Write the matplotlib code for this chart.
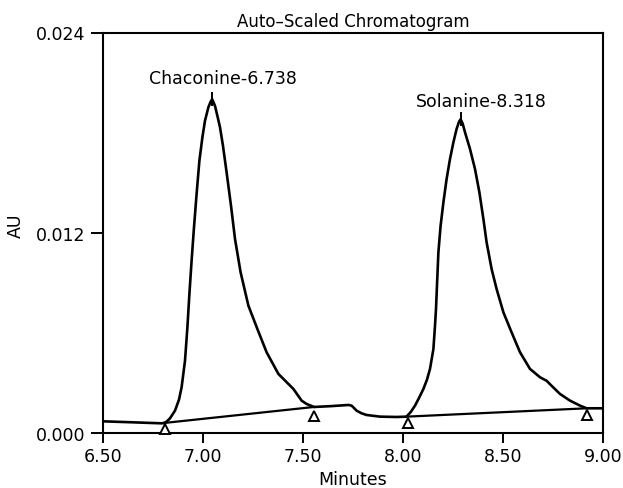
import matplotlib
matplotlib.use("Agg")
import matplotlib.pyplot as plt

plt.rcParams['font.family'] = ['DejaVu Sans']

# ---- data ----
time_min = [6.50, 6.65, 6.793, 6.805, 6.818, 6.835, 6.860, 6.880, 6.893, 6.910, 6.922,
            6.932, 6.943, 6.955, 6.968, 6.982, 6.997, 7.010, 7.027, 7.038, 7.046,
            7.060, 7.072, 7.085, 7.100, 7.118, 7.140, 7.160, 7.188, 7.227, 7.272,
            7.318, 7.377, 7.402, 7.452, 7.493, 7.518, 7.555, 7.640, 7.727, 7.743,
            7.768, 7.793, 7.818, 7.885, 7.968, 8.018, 8.040, 8.060, 8.080, 8.102,
            8.120, 8.135, 8.152, 8.160, 8.165, 8.172, 8.177, 8.188, 8.202, 8.218,
            8.235, 8.252, 8.268, 8.280, 8.288, 8.298, 8.310, 8.335, 8.360, 8.382,
            8.402, 8.418, 8.443, 8.468, 8.502, 8.543, 8.585, 8.635, 8.685, 8.718,
            8.743, 8.785, 8.835, 8.885, 8.918, 9.000]
absorbance = [0.00070, 0.00064, 0.00058, 0.00060, 0.00068, 0.00088, 0.00134, 0.00200,
              0.00274, 0.00433, 0.00633, 0.00833, 0.01033, 0.01233, 0.01432, 0.01632,
              0.01772, 0.01872, 0.01952, 0.01985, 0.02000, 0.01960, 0.01900, 0.01832,
              0.01720, 0.01562, 0.01362, 0.01163, 0.00963, 0.00763, 0.00623, 0.00484,
              0.00354, 0.00324, 0.00264, 0.00194, 0.00174, 0.00156, 0.00161, 0.00168,
              0.00164, 0.00134, 0.00118, 0.00108, 0.00098, 0.00096, 0.00098, 0.00128,
              0.00164, 0.00210, 0.00264, 0.00320, 0.00384, 0.00503, 0.00643, 0.00743,
              0.00943, 0.01083, 0.01242, 0.01382, 0.01522, 0.01642, 0.01742, 0.01822,
              0.01865, 0.01880, 0.01855, 0.01802, 0.01702, 0.01582, 0.01442, 0.01282,
              0.01143, 0.00983, 0.00863, 0.00723, 0.00603, 0.00484, 0.00384, 0.00334,
              0.00313, 0.00283, 0.00234, 0.00194, 0.00164, 0.00148, 0.00148]

# integration baselines (start, end) of each peak
baseline1_x = [6.805, 7.555]
baseline1_y = [0.00060, 0.00156]
baseline2_x = [8.018, 8.918]
baseline2_y = [0.00098, 0.00148]

# peak apex markers and labels
apex_x = [7.046, 8.288]
apex_y = [0.02000, 0.01880]
peak_labels = ["Chaconine-6.738", "Solanine-8.318"]
label_x = [7.10, 8.39]
label_y = [0.0213, 0.0199]

# baseline event triangles
event_x = [6.8075, 7.555, 8.0225, 8.9215]
event_y = [0.00024, 0.00104, 0.00060, 0.00108]

x_ticks = [6.50, 7.00, 7.50, 8.00, 8.50, 9.00]
x_ticklabels = ["6.50", "7.00", "7.50", "8.00", "8.50", "9.00"]
y_ticks = [0.000, 0.012, 0.024]
y_ticklabels = ["0.000", "0.012", "0.024"]

# ---- figure ----
fig = plt.figure(figsize=(6.23, 4.89), dpi=100)
ax = fig.add_axes([103/623, 55/489, 500/623, 400.5/489])

ax.plot(time_min, absorbance, color='black', lw=1.9, solid_joinstyle='round', zorder=3)
ax.plot(baseline1_x, baseline1_y, color='black', lw=1.6, zorder=2)
ax.plot(baseline2_x, baseline2_y, color='black', lw=1.6, zorder=2)
ax.plot(apex_x, apex_y, linestyle='none', marker='|', markersize=10,
        markeredgewidth=1.4, color='black', zorder=4)
ax.plot(event_x, event_y, linestyle='none', marker='^', markersize=7,
        markerfacecolor='white', markeredgecolor='black', markeredgewidth=1.4,
        zorder=4, clip_on=False)

for lx, ly, txt in zip(label_x, label_y, peak_labels):
    ax.text(lx, ly, txt, ha='center', va='center', fontsize=12.5)

ax.set_xlim(6.5, 9.0)
ax.set_ylim(0.0, 0.024)
ax.set_xticks(x_ticks)
ax.set_xticklabels(x_ticklabels)
ax.set_yticks(y_ticks)
ax.set_yticklabels(y_ticklabels)
ax.tick_params(axis='x', direction='out', length=7, width=1.4, pad=3, labelsize=12.5)
ax.tick_params(axis='y', direction='out', length=9, width=1.4, pad=3.5, labelsize=12.5)
for s in ax.spines.values():
    s.set_linewidth(1.5)

ax.set_title("Auto\u2013Scaled Chromatogram", fontsize=12, pad=4.5)
ax.set_xlabel("Minutes", fontsize=12.5)
ax.set_ylabel("AU", fontsize=12.5)
ax.xaxis.set_label_coords(0.5, -0.092)
ax.yaxis.set_label_coords(-0.156, 0.52)

fig.savefig("out.png", dpi=100)
